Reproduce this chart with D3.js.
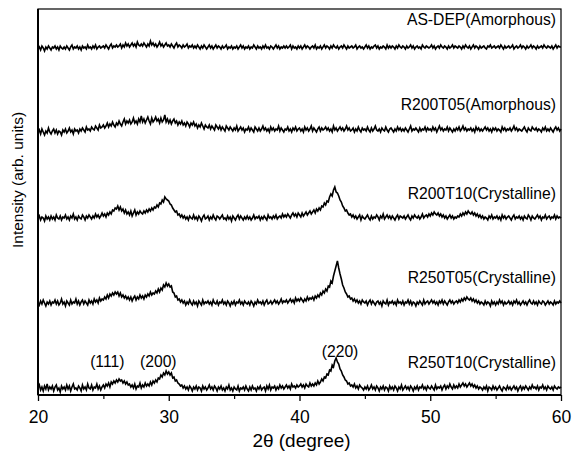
<!DOCTYPE html>
<html><head><meta charset="utf-8">
<script src="https://cdn.jsdelivr.net/npm/d3@7"></script>
<style>
html,body{margin:0;padding:0;background:#fff;}
svg{display:block;font-family:"Liberation Sans",Arial,sans-serif;}
</style></head>
<body><svg id="c" width="572" height="457"></svg>
<script>
// 2-theta sampling: 20.0 .. 60.0 every 0.1 degree
const thetaStart = 20, thetaStep = 0.1;
const xTicks = [20, 30, 40, 50, 60];
const xMinorTicks = [25, 35, 45, 55];
const seriesNames = ["AS-DEP(Amorphous)", "R200T05(Amorphous)", "R200T10(Crystalline)", "R250T05(Crystalline)", "R250T10(Crystalline)"];
const seriesOffsets = [340, 256, 170, 85, 0];
const seriesLabelY = [383, 298, 209, 125, 40];
const peakLabels = ["(111)", "(200)", "(220)"];
const peakPositions = [25.3, 29.2, 43.1];
const peakLabelHeights = [41, 41, 51];

const asDep = [
19,21,18,22,20,17,21,19,22,20, 18,21,20,22,19,21,18,22,20,19,
21,19,22,20,18,21,23,19,21,20, 22,19,21,18,22,20,21,19,23,20,
21,19,22,20,23,19,21,22,20,21, 22,20,23,21,19,22,24,20,22,21,
23,21,22,24,20,23,21,25,22,24, 21,23,25,22,24,21,26,23,22,24,
22,25,23,21,24,22,27,23,25,22, 24,21,23,26,22,24,21,23,25,22,
23,21,24,22,20,23,25,21,23,22, 20,23,21,22,24,20,22,21,23,20,
22,20,23,21,19,22,20,23,21,19, 21,23,20,22,19,21,23,20,22,21,
19,22,20,21,23,19,21,20,22,19, 21,20,22,19,21,23,20,22,19,21,
20,22,19,21,20,23,21,19,22,20, 21,19,22,20,23,20,21,19,22,21,
19,21,23,20,22,19,21,20,22,20, 22,20,21,23,19,22,20,21,19,22,
20,22,19,21,23,20,22,21,19,21, 22,20,23,19,21,20,22,19,21,23,
20,22,21,19,22,20,23,21,20,22, 19,21,22,20,23,21,19,22,20,21,
22,20,21,23,19,21,22,20,21,19, 21,23,20,22,19,21,20,22,23,20,
22,19,21,20,22,21,19,23,20,22, 20,22,21,19,22,20,23,21,20,22,
21,19,22,20,21,23,20,22,19,21, 22,20,21,19,23,21,20,22,21,20,
21,23,20,22,19,21,22,20,23,21, 20,22,21,19,22,20,21,23,20,22,
21,20,22,21,19,22,20,23,21,20, 22,19,21,23,20,22,21,19,22,20,
21,22,20,19,22,21,23,20,21,22, 20,21,22,20,23,21,19,22,20,21,
22,20,21,23,19,21,22,20,21,23, 20,22,21,19,22,20,21,23,20,22,
21,19,22,20,21,22,20,23,21,20, 22,21,20,22,19,21,23,20,22,21,
21];

const r200t05 = [
19,22,18,23,20,17,21,19,24,20, 18,21,23,19,22,18,21,20,17,22,
20,23,19,21,24,20,22,18,23,21, 22,19,23,21,24,22,20,25,22,23,
21,25,23,22,26,24,22,27,24,25, 27,24,26,29,25,28,26,30,27,25,
29,27,31,28,26,30,33,28,31,29, 32,28,30,34,29,31,28,33,30,36,
30,33,29,32,35,31,28,34,30,32, 35,31,33,29,34,30,32,37,30,33,
29,32,28,31,33,29,31,27,30,28, 31,27,29,26,30,28,25,29,27,30,
26,28,24,27,25,29,26,23,27,25, 24,27,23,26,24,22,27,25,23,26,
22,25,23,21,26,24,22,25,23,21, 24,22,26,21,23,25,22,24,20,23,
22,25,21,24,22,20,25,23,21,24, 21,23,26,22,24,21,23,20,25,22,
24,21,23,22,26,21,24,22,20,23, 22,25,21,23,20,24,22,25,21,23,
24,21,23,20,25,22,24,21,23,26, 21,24,22,20,23,25,21,24,22,23,
25,22,24,21,23,20,26,22,24,21, 23,25,22,24,21,23,26,22,24,21,
22,24,20,23,21,25,22,20,24,22, 23,21,25,22,20,24,21,23,26,22,
21,23,20,24,22,21,25,22,20,23, 24,22,20,23,21,25,22,24,21,23,
21,24,22,20,23,26,21,23,22,24, 22,20,24,21,23,22,25,21,24,22,
23,21,25,22,24,20,23,26,22,24, 21,23,22,25,21,24,22,20,23,21,
24,22,25,21,23,26,22,24,21,23, 22,24,21,23,20,25,22,24,21,23,
21,23,25,22,24,21,23,20,24,22, 24,21,23,22,20,25,22,24,21,23,
22,24,21,23,26,22,24,21,23,22, 21,23,25,22,20,24,22,21,25,23,
22,24,21,23,22,20,24,22,25,21, 23,21,24,22,20,23,25,22,24,21,
23];

const r200t10 = [
19,22,18,21,20,17,22,19,21,18, 22,19,21,18,23,20,19,22,18,21,
20,23,19,21,18,22,20,24,19,21, 18,22,20,19,23,21,18,22,20,23,
21,19,22,20,24,21,23,20,22,25, 22,24,21,25,23,26,24,28,27,30,
29,32,28,31,27,29,25,28,24,26, 23,27,22,25,28,23,26,24,27,25,
24,27,25,28,26,29,27,30,28,31, 30,33,31,35,34,38,36,41,39,38,
37,34,33,30,28,26,27,23,24,21, 23,20,22,19,21,18,22,20,19,23,
19,21,18,22,20,17,21,23,19,20, 22,18,21,19,23,20,18,22,21,19,
21,23,19,20,18,22,19,21,17,22, 20,18,21,23,19,22,20,18,21,19,
22,19,21,18,20,23,19,21,20,22, 18,21,19,22,20,18,23,20,21,19,
22,20,23,19,21,22,20,24,21,23, 21,24,22,20,23,25,22,24,21,25,
23,21,25,22,24,26,23,25,27,24, 26,28,25,29,27,30,28,32,31,35,
33,37,36,41,44,42,48,51,46,45, 42,38,36,32,30,27,28,25,23,24,
21,23,20,22,19,21,23,18,22,20, 19,21,23,20,18,22,19,21,20,23,
21,18,22,20,24,19,21,23,20,22, 19,22,20,18,21,23,19,22,21,20,
22,19,21,23,20,18,22,20,23,21, 20,22,19,21,24,20,22,23,21,24,
22,25,23,26,24,23,25,22,24,21, 23,20,22,19,21,23,20,22,19,21,
20,22,21,24,22,25,23,26,24,27, 25,24,26,23,25,22,24,21,23,20,
22,19,21,20,18,22,20,23,19,21, 20,22,19,21,18,23,20,22,19,21,
22,20,18,21,23,19,21,20,22,19, 21,18,22,20,19,23,21,18,22,20,
19,21,23,20,22,18,21,20,23,19, 21,22,19,21,20,23,19,22,20,21,
20];

const r250t05 = [
21,18,22,19,23,20,17,21,19,22, 18,21,20,23,19,22,18,20,24,19,
21,17,22,20,18,23,19,21,20,24, 19,22,18,21,23,19,22,20,18,23,
20,22,19,24,21,23,20,25,22,24, 23,26,24,28,25,29,27,30,28,31,
29,31,27,30,26,28,25,27,24,26, 23,26,22,25,27,23,26,24,28,25,
27,24,28,26,29,27,31,28,30,29, 32,30,34,31,35,33,38,36,40,37,
39,36,37,31,30,26,27,23,24,21, 23,20,22,18,21,19,23,20,18,22,
19,21,17,22,20,18,23,19,21,20, 22,19,21,18,23,20,19,22,18,21,
20,23,19,21,18,22,20,17,21,19, 22,18,21,20,23,19,21,18,22,20,
19,21,18,22,20,17,21,19,23,20, 21,19,22,18,21,23,19,20,22,19,
21,23,20,22,19,21,24,20,22,21, 23,20,22,24,21,23,20,25,22,24,
22,25,23,21,24,22,26,23,25,24, 26,23,27,25,28,26,30,28,32,30,
34,32,37,36,42,40,47,52,57,62, 55,49,44,38,35,31,29,26,27,24,
25,22,24,21,23,20,22,19,23,21, 20,22,18,21,23,19,22,20,18,21,
22,19,21,17,22,20,19,23,18,21, 20,22,19,21,18,23,20,21,19,22,
18,21,20,23,19,22,18,21,20,17, 21,19,22,20,18,23,19,21,22,19,
21,23,20,22,19,21,18,22,20,23, 19,22,20,18,21,23,20,22,19,21,
22,20,23,21,24,22,25,23,26,24, 23,25,22,24,21,23,20,22,19,21,
20,18,22,19,21,20,17,22,19,21, 18,21,19,23,20,22,18,21,19,20,
22,19,21,18,22,20,23,19,21,18, 20,22,19,21,18,21,23,20,19,22,
19,21,18,22,20,19,22,21,18,20, 22,19,21,20,18,22,19,21,20,22,
20];

const r250t10 = [
20,23,18,21,17,22,19,24,18,21, 19,22,17,21,23,18,20,16,22,19,
21,18,23,19,22,17,21,24,19,20, 18,22,20,17,23,19,21,18,24,20,
19,23,18,21,20,24,19,22,18,21, 23,20,24,22,25,21,26,24,27,25,
28,26,29,27,28,25,27,24,26,23, 24,21,23,20,24,19,22,21,25,20,
23,21,25,22,24,22,26,23,27,25, 28,26,30,29,33,31,35,33,37,34,
36,33,35,30,31,27,28,25,24,22, 23,20,22,19,21,18,22,20,17,21,
19,22,18,21,20,17,22,19,21,18, 20,23,19,21,18,22,20,17,21,19,
22,18,20,17,21,19,23,18,20,17, 21,19,18,22,17,20,19,21,18,22,
19,17,21,18,22,19,20,17,21,19, 22,18,20,21,17,22,19,23,18,21,
20,22,18,21,19,23,20,22,19,21, 23,20,22,19,24,21,22,20,23,21,
22,24,21,23,20,24,22,21,25,22, 24,22,25,23,27,24,26,29,27,31,
30,34,33,38,37,43,41,47,50,46, 44,39,37,33,31,28,27,24,25,22,
23,21,24,20,22,19,23,21,20,18, 21,19,22,18,20,23,19,21,18,22,
20,17,21,19,22,18,21,20,17,22, 19,21,18,22,20,17,21,19,23,18,
20,22,19,21,18,22,20,17,21,19, 22,18,21,20,23,19,21,18,22,20,
19,22,20,18,23,19,21,20,22,18, 21,23,19,22,20,24,21,19,23,20,
22,20,24,21,23,25,22,24,21,23, 25,22,24,21,23,20,22,19,21,20,
18,21,19,22,17,21,20,18,22,19, 21,18,20,22,19,17,21,20,18,22,
19,21,18,20,22,19,21,17,20,22, 18,21,19,22,20,18,21,19,23,20,
21,19,22,18,21,20,23,19,21,18, 22,20,19,21,18,22,20,19,21,20,
21];

const allSeries = [asDep, r200t05, r200t10, r250t05, r250t10];

const svg = d3.select("#c");
const mLeft = 38, mRight = 561, mTop = 9, mBottom = 395;
const x = d3.scaleLinear().domain([20, 60]).range([mLeft, mRight]);
const y = d3.scaleLinear().domain([13, 399]).range([mBottom, mTop]);

// frame
svg.append("rect").attr("x", mLeft).attr("y", mTop).attr("width", mRight - mLeft).attr("height", mBottom - mTop)
  .attr("fill", "none").attr("stroke", "#000").attr("stroke-width", 1.2);
svg.append("line").attr("x1", mLeft).attr("x2", mLeft).attr("y1", mTop).attr("y2", mBottom).attr("stroke", "#000").attr("stroke-width", 2);
svg.append("line").attr("x1", mLeft).attr("x2", mRight).attr("y1", mBottom).attr("y2", mBottom).attr("stroke", "#000").attr("stroke-width", 2);

// x axis
const xAxis = d3.axisBottom(x).tickValues(xTicks).tickSize(6).tickFormat(d3.format("d"));
const gx = svg.append("g").attr("transform", `translate(0,${mBottom})`).call(xAxis);
gx.select(".domain").remove();
gx.selectAll(".tick line").attr("stroke", "#000").attr("stroke-width", 1.3);
gx.selectAll(".tick text").attr("font-size", 17.5).attr("fill", "#000").attr("dy", null).attr("y", 28)
  .attr("font-family", "Liberation Sans, Arial, sans-serif");
const gxm = svg.append("g").attr("transform", `translate(0,${mBottom})`)
  .call(d3.axisBottom(x).tickValues(xMinorTicks).tickSize(4).tickFormat(""));
gxm.select(".domain").remove();
gxm.selectAll(".tick line").attr("stroke", "#000").attr("stroke-width", 1.2);

// traces
const line = d3.line().x(d => x(d[0])).y(d => y(d[1]));
allSeries.forEach((vals, i) => {
  const pts = vals.map((v, k) => [thetaStart + k * thetaStep, v + seriesOffsets[i]]);
  svg.append("path").attr("d", line(pts)).attr("fill", "none")
    .attr("stroke", "#000").attr("stroke-width", 1.6).attr("stroke-linejoin", "miter");
});

// series labels
seriesNames.forEach((n, i) => {
  svg.append("text").attr("x", 556).attr("y", y(seriesLabelY[i])).attr("text-anchor", "end")
    .attr("font-size", 15.7).attr("fill", "#000").text(n);
});

// peak labels (on bottom trace)
peakLabels.forEach((p, i) => {
  svg.append("text").attr("x", x(peakPositions[i])).attr("y", y(peakLabelHeights[i])).attr("text-anchor", "middle")
    .attr("font-size", 15.7).attr("fill", "#000").text(p);
});

// axis titles
svg.append("text").attr("x", (mLeft + mRight) / 2 + 2).attr("y", 447).attr("text-anchor", "middle")
  .attr("font-size", 19).attr("fill", "#000").text("2θ (degree)");
svg.append("text").attr("transform", `translate(23,180) rotate(-90)`).attr("text-anchor", "middle")
  .attr("font-size", 15.5).attr("fill", "#000").text("Intensity (arb. units)");
</script></body></html>
